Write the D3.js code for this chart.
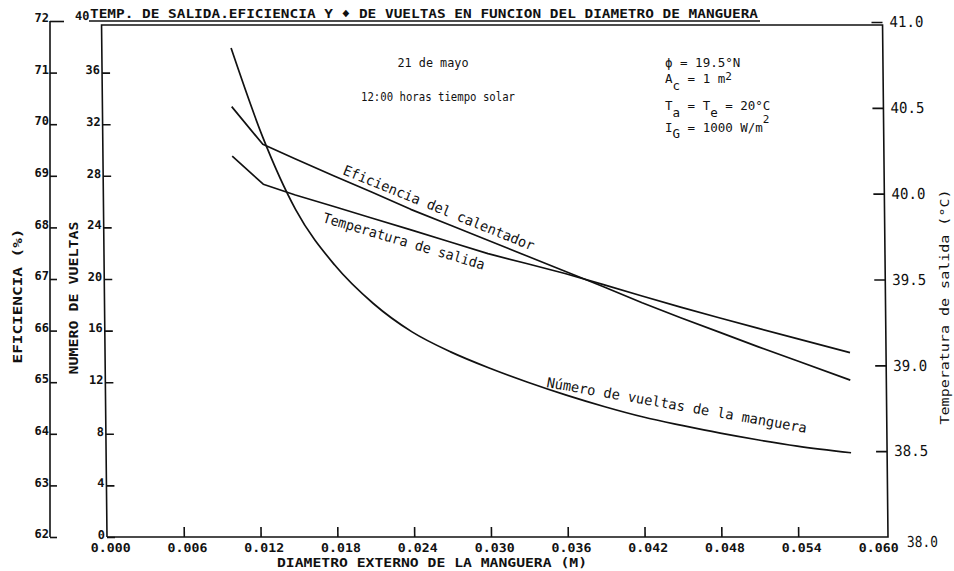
<!DOCTYPE html>
<html>
<head>
<meta charset="utf-8">
<script src="https://cdn.jsdelivr.net/npm/d3@7"></script>
<style>
  body { margin: 0; background: #fff; }
  svg { display: block; }
  text { fill: #111; }
</style>
</head>
<body>
<svg id="chart" width="954" height="571"></svg>
<script>
// Diámetro externo de la manguera (m)
const diametro = [0.0101, 0.0125, 0.015, 0.018, 0.021, 0.024, 0.027, 0.030, 0.033,
                  0.036, 0.039, 0.042, 0.045, 0.048, 0.051, 0.054, 0.0582];
// Eficiencia del calentador (%)
const eficiencia = [70.34, 69.61, 69.33, 69.00, 68.68, 68.35, 68.05, 67.75, 67.45,
                    67.15, 66.85, 66.54, 66.25, 65.97, 65.69, 65.42, 65.04];
// Temperatura de salida (°C)
const temperatura = [40.219, 40.055, 39.992, 39.925, 39.857, 39.789, 39.720, 39.651, 39.593,
                     39.535, 39.470, 39.404, 39.339, 39.277, 39.217, 39.157, 39.074];
// Número de vueltas de la manguera
const vueltas = [37.9, 31.0, 25.4, 21.1, 18.1, 15.9, 14.35, 13.1, 12.0,
                 11.0, 10.1, 9.3, 8.65, 8.05, 7.52, 7.05, 6.53];

const xTicks = [0, 0.006, 0.012, 0.018, 0.024, 0.030, 0.036, 0.042, 0.048, 0.054, 0.060];
const eficienciaTicks = [62, 63, 64, 65, 66, 67, 68, 69, 70, 71, 72];
const vueltasTicks = [0, 4, 8, 12, 16, 20, 24, 28, 32, 36, 40];
const temperaturaTicks = [38.0, 38.5, 39.0, 39.5, 40.0, 40.5, 41.0];

const svg = d3.select("#chart");
const MONO = "'DejaVu Sans Mono', 'Liberation Mono', monospace";
const INK = "#111";

const x = d3.scaleLinear().domain([0, 0.060]).range([107, 875]);
const yEf = d3.scaleLinear().domain([62, 72]).range([537, 21]);
const yN = d3.scaleLinear().domain([0, 40]).range([537, 21]);
const yT = d3.scaleLinear().domain([38, 41]).range([537, 22]);

const xLeft = 107, xRight = 888, yBottom = 537, yTop = 25;

// The plotted frame leans slightly (plotter output)
const plot = svg.append("g")
  .attr("transform", `translate(0,${yBottom}) skewX(0.61) translate(0,${-yBottom})`);

// Frame: top line, left (vueltas) axis, right (temperatura) axis, bottom axis
plot.append("path")
  .attr("d", `M${xLeft},${yBottom}V${yTop}H${xRight}V${yBottom}H${xLeft}`)
  .attr("fill", "none").attr("stroke", INK).attr("stroke-width", 1.6);

// Eje X
const xAxis = d3.axisBottom(x)
  .tickValues(xTicks)
  .tickSizeInner(-10).tickSizeOuter(0).tickPadding(5)
  .tickFormat(d3.format(".3f"));
const gx = plot.append("g").attr("transform", `translate(0,${yBottom})`).call(xAxis);
gx.select(".domain").remove();
gx.selectAll(".tick line").attr("stroke", INK).attr("stroke-width", 1.6)
  .attr("display", d => (d === 0 || d === 0.060) ? "none" : null);
gx.selectAll(".tick text")
  .attr("font-family", MONO).attr("font-weight", "bold").attr("font-size", 12)
  .attr("textLength", 40).attr("lengthAdjust", "spacingAndGlyphs")
  .attr("dx", 3).attr("dy", "0.85em");

// Eje de número de vueltas
const nAxis = d3.axisLeft(yN)
  .tickValues(vueltasTicks)
  .tickSizeInner(-8).tickSizeOuter(0).tickPadding(2)
  .tickFormat(d3.format("d"));
const gn = plot.append("g").attr("transform", `translate(${xLeft},0)`).call(nAxis);
gn.select(".domain").remove();
gn.selectAll(".tick line").attr("stroke", INK).attr("stroke-width", 1.6)
  .attr("display", d => d === 40 ? "none" : null);
gn.selectAll(".tick text")
  .attr("font-family", MONO).attr("font-weight", "bold").attr("font-size", 12)
  .attr("dx", d => d === 40 ? -10 : 0)
  .attr("dy", d => d === 40 ? "-0.1em" : "0.1em");

// Eje de temperatura de salida
const tAxis = d3.axisRight(yT)
  .tickValues(temperaturaTicks)
  .tickSizeInner(-11).tickSizeOuter(0).tickPadding(7)
  .tickFormat(d3.format(".1f"));
const gt = plot.append("g").attr("transform", `translate(${xRight},0)`).call(tAxis);
gt.select(".domain").remove();
gt.selectAll(".tick line").attr("stroke", INK).attr("stroke-width", 1.6)
  .attr("display", d => d === 38 ? "none" : null);
gt.selectAll(".tick text")
  .attr("font-family", MONO).attr("font-size", 15)
  .attr("textLength", d => d === 38 ? 31 : 34).attr("lengthAdjust", "spacingAndGlyphs")
  .attr("dx", d => d === 38 ? 12 : 0)
  .attr("dy", d => d === 38 ? "0.6em" : "0.32em");

// Curvas
const curves = [
  { values: eficiencia, scale: yEf, shape: d3.curveLinear },
  { values: temperatura, scale: yT, shape: d3.curveLinear },
  { values: vueltas, scale: yN, shape: d3.curveMonotoneX }
];
plot.selectAll("path.curve")
  .data(curves)
  .join("path")
  .attr("class", "curve")
  .attr("d", c => d3.line()
    .x((d, i) => x(diametro[i]))
    .y(d => c.scale(d))
    .curve(c.shape)(c.values))
  .attr("fill", "none").attr("stroke", INK).attr("stroke-width", 1.7)
  .attr("stroke-linejoin", "round");

// Eje de eficiencia (separado, a la izquierda)
const xEf = 50;
const efAxis = d3.axisLeft(yEf)
  .tickValues(eficienciaTicks)
  .tickSizeInner(-7).tickSizeOuter(0).tickPadding(1)
  .tickFormat(d3.format("d"));
const ge = svg.append("g").attr("transform", `translate(${xEf},0)`).call(efAxis);
ge.select(".domain").attr("d", `M0,${yEf(62)}V${yEf(72)}`)
  .attr("stroke", INK).attr("stroke-width", 1.6);
ge.selectAll(".tick line").attr("stroke", INK).attr("stroke-width", 1.6)
  .attr("x2", d => d === 72 ? 14 : 7);
ge.selectAll(".tick text")
  .attr("font-family", MONO).attr("font-weight", "bold").attr("font-size", 12)
  .attr("dy", "0.05em");

// Títulos de ejes
function label(txt, px, py, opts) {
  const t = svg.append("text")
    .attr("font-family", MONO)
    .attr("font-size", opts.size || 12)
    .attr("font-weight", opts.bold ? "bold" : "normal")
    .attr("text-anchor", opts.anchor || "start")
    .attr("transform", `translate(${px},${py})` + (opts.rotate ? ` rotate(${opts.rotate})` : ""))
    .text(txt);
  if (opts.length) t.attr("textLength", opts.length).attr("lengthAdjust", "spacingAndGlyphs");
  return t;
}

label("TEMP. DE SALIDA.EFICIENCIA Y \u2666 DE VUELTAS EN FUNCION DEL DIAMETRO DE MANGUERA",
      90, 18, { bold: true, size: 12.5, length: 668 });
svg.append("line").attr("x1", 89).attr("x2", 760).attr("y1", 21).attr("y2", 21)
  .attr("stroke", INK).attr("stroke-width", 1.4);

label("EFICIENCIA  (%)", 22, 296, { bold: true, size: 12, anchor: "middle", rotate: -90, length: 135 });
label("NUMERO DE VUELTAS", 78, 298, { bold: true, size: 12, anchor: "middle", rotate: -90, length: 153 });
label("DIAMETRO EXTERNO DE LA MANGUERA  (M)", 277, 567, { bold: true, size: 12, length: 310 });
label("Temperatura de salida (°C)", 949, 307, { size: 13, anchor: "middle", rotate: -90, length: 235 });

// Condiciones de cálculo
label("21 de mayo", 433, 67, { size: 12.5, anchor: "middle", length: 71 });
label("12:00 horas tiempo solar", 438, 101, { size: 12.5, anchor: "middle", length: 154 });

const cond = svg.append("g").attr("font-family", MONO).attr("font-size", 12.5);
function condLine(py, parts) {
  const t = cond.append("text").attr("x", 665).attr("y", py);
  parts.forEach(p => {
    const s = t.append("tspan").text(p.t);
    if (p.dy) s.attr("dy", p.dy);
    if (p.size) s.attr("font-size", p.size);
  });
}
condLine(67, [{ t: "\u03d5 = 19.5°N" }]);
condLine(83, [{ t: "A" }, { t: "c", dy: 7 }, { t: " = 1 m", dy: -7 }, { t: "2", dy: -3, size: 11 }]);
condLine(110, [{ t: "T" }, { t: "a", dy: 7 }, { t: " = T", dy: -7 }, { t: "e", dy: 7 }, { t: " = 20°C", dy: -7 }]);
condLine(132, [{ t: "I" }, { t: "G", dy: 6 }, { t: " = 1000 W/m", dy: -6 }, { t: "2", dy: -9, size: 11 }]);

// Rótulos de curvas
label("Eficiencia del calentador", 342, 174, { size: 14, rotate: 22, length: 205 });
label("Temperatura de salida", 322, 222, { size: 14, rotate: 16.5, length: 168 });
label("Número de vueltas de la manguera", 546, 387, { size: 14, rotate: 10, length: 264 });
</script>
</body>
</html>
